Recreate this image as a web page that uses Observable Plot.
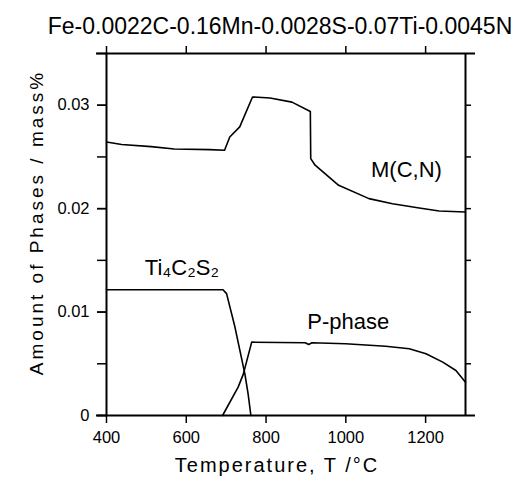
<!DOCTYPE html>
<html>
<head>
<meta charset="utf-8">
<script src="https://cdn.jsdelivr.net/npm/d3@7"></script>
<script src="https://cdn.jsdelivr.net/npm/@observablehq/plot@0.6"></script>
<style>
  html, body { margin: 0; padding: 0; background: #fff; }
  #chart svg { display: block; }
</style>
</head>
<body>
<div id="chart"></div>
<script>
// ---- data ----
const titleText = "Fe-0.0022C-0.16Mn-0.0028S-0.07Ti-0.0045N";
const xLabel = "Temperature, T /°C";
const yLabel = "Amount of Phases / mass%";

const xTicks = [400, 600, 800, 1000, 1200];
const yTickValues = [0, 0.01, 0.02, 0.03];
const yTickLabels = ["0", "0.01", "0.02", "0.03"];
const yMinorTicks = [0, 0.005, 0.01, 0.015, 0.02, 0.025, 0.03, 0.035];
const yRightTicks = [0.005, 0.01, 0.015, 0.02, 0.025, 0.03];

const mcnT = [400, 438, 512, 570, 659, 696, 709, 734, 766, 810, 865, 911, 912, 923, 982, 1058, 1117, 1184, 1234, 1300];
const mcnV = [0.02645, 0.0262, 0.0260, 0.02577, 0.02571, 0.02565, 0.02693, 0.0279, 0.0308, 0.0307, 0.0303, 0.0294, 0.02484, 0.0242, 0.02226, 0.02097, 0.02048, 0.02006, 0.01977, 0.01967];

const ticsT = [400, 692, 701, 722, 747, 755, 762];
const ticsV = [0.01216, 0.01216, 0.01178, 0.00855, 0.0040, 0.0021, 0];

const pT = [691, 730, 743, 764, 898, 907, 915, 999, 1100, 1159, 1201, 1243, 1276, 1300];
const pV = [0, 0.00274, 0.0040, 0.00709, 0.00704, 0.00687, 0.00704, 0.00694, 0.0067, 0.00645, 0.00597, 0.00516, 0.00435, 0.00322];

const phaseNames = ["M(C,N)", "Ti₄C₂S₂", "P-phase"];

// ---- build ----
const toRows = (T, V) => T.map((t, i) => ({T: t, v: V[i]}));
const mcn = toRows(mcnT, mcnV);
const tics = toRows(ticsT, ticsV);
const pph = toRows(pT, pV);

const FONT = "'Liberation Sans', Arial, Helvetica, sans-serif";

const chart = Plot.plot({
  width: 524,
  height: 488,
  marginTop: 53,
  marginLeft: 106,
  marginRight: 59,
  marginBottom: 73,
  style: {fontFamily: FONT, background: "#fff", color: "#000"},
  x: {domain: [400, 1300]},
  y: {domain: [0, 0.035]},
  marks: [
    // frame
    Plot.ruleY([0, 0.035], {insetLeft: -10, insetRight: -10, stroke: "#000", strokeWidth: 2}),
    Plot.ruleX([400, 1300], {stroke: "#000", strokeWidth: 2}),
    // axes
    Plot.axisX({anchor: "bottom", ticks: xTicks, tickSize: 8, tickPadding: 8, label: null,
      fontSize: 16.5, strokeWidth: 1.5, tickFormat: d => String(d)}),
    Plot.axisX({anchor: "top", ticks: xTicks, tickSize: 8, label: null, strokeWidth: 1.5, tickFormat: () => ""}),
    Plot.axisY({anchor: "left", ticks: yMinorTicks, tickSize: 9, label: null, strokeWidth: 1.5, tickFormat: () => ""}),
    Plot.axisY({anchor: "left", ticks: yTickValues, tickSize: 9, tickPadding: 8, label: null,
      fontSize: 16.5, strokeWidth: 1.5,
      tickFormat: d => yTickLabels[yTickValues.indexOf(d)]}),
    Plot.axisY({anchor: "right", ticks: yRightTicks, tickSize: 5, label: null, strokeWidth: 1.5, tickFormat: () => ""}),
    // curves
    Plot.line(mcn, {x: "T", y: "v", stroke: "#000", strokeWidth: 1.6}),
    Plot.line(tics, {x: "T", y: "v", stroke: "#000", strokeWidth: 1.6}),
    Plot.line(pph, {x: "T", y: "v", stroke: "#000", strokeWidth: 1.6}),
    // phase labels
    Plot.text([phaseNames[0]], {x: 1152, y: 0.0237, text: d => d, fontSize: 22, fill: "#000"}),
    Plot.text([phaseNames[1]], {x: 589, y: 0.0143, text: d => d, fontSize: 22, fill: "#000"}),
    Plot.text([phaseNames[2]], {x: 1006, y: 0.0090, text: d => d, fontSize: 22, fill: "#000"}),
    // title & axis labels
    Plot.text([titleText], {frameAnchor: "top", dx: -6, dy: -36, text: d => d, fontSize: 23, fill: "#000"}),
    Plot.text([xLabel], {frameAnchor: "bottom", dx: -9, dy: 56, text: d => d, fontSize: 20, fill: "#000"}),
    Plot.text([yLabel], {frameAnchor: "left", textAnchor: "middle", dx: -70, dy: -12, rotate: -90,
      text: d => d, fontSize: 19, fill: "#000"})
  ]
});
// letter spacing for the axis titles (as in the reference)
d3.select(chart).selectAll("text")
  .filter(function () { return this.textContent === xLabel; })
  .style("letter-spacing", "2px");
d3.select(chart).selectAll("text")
  .filter(function () { return this.textContent === yLabel; })
  .style("letter-spacing", "3px");
document.getElementById("chart").appendChild(chart);
</script>
</body>
</html>
